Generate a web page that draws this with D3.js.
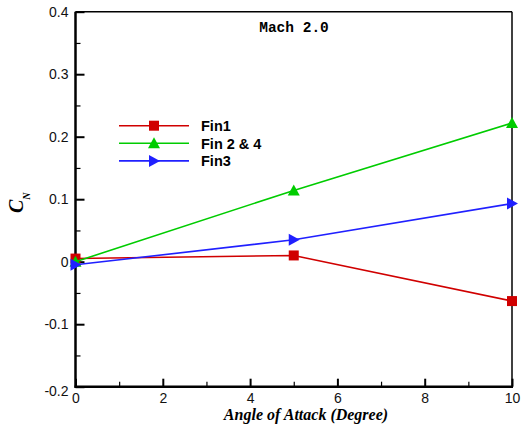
<!DOCTYPE html>
<html>
<head>
<meta charset="utf-8">
<script src="https://cdn.jsdelivr.net/npm/d3@7"></script>
<style>
  body { margin: 0; background: #fff; }
</style>
</head>
<body>
<div id="canvas"></div>
<script>
"use strict"

// data
let angles = [0, 5, 10];
let fin1 = [0.005, 0.01, -0.063];
let fin24 = [0, 0.114, 0.222];
let fin3 = [-0.005, 0.035, 0.093];
let seriesNames = ["Fin1", "Fin 2 & 4", "Fin3"];
let xTicks = [0, 2, 4, 6, 8, 10];
let yTicks = [-0.2, -0.1, 0, 0.1, 0.2, 0.3, 0.4];

let width = 521;
let height = 426;
let plotLeft = 75.5, plotRight = 512, plotTop = 11.7, plotBottom = 386.7;

let svg = d3.select("#canvas")
    .append("svg")
    .attr("width", width)
    .attr("height", height);

let x = d3.scaleLinear().domain([0, 10]).range([plotLeft, plotRight]);
let y = d3.scaleLinear().domain([-0.2, 0.4]).range([plotBottom, plotTop]);

/* frame top and right, thin */
svg.append("line")
    .attr("x1", plotLeft).attr("y1", plotTop)
    .attr("x2", plotRight).attr("y2", plotTop)
    .attr("stroke", "black").attr("stroke-width", 1.5);
svg.append("line")
    .attr("x1", plotRight).attr("y1", plotTop)
    .attr("x2", plotRight).attr("y2", plotBottom)
    .attr("stroke", "black").attr("stroke-width", 1.5);

/* bottom axis */
let xAxis = svg.append("g")
    .attr("transform", "translate(0," + plotBottom + ")")
    .call(d3.axisBottom(x).tickValues(xTicks).tickSize(-8).tickPadding(6)
        .tickFormat(d3.format("d")));
xAxis.select(".domain").remove();
xAxis.selectAll(".tick line").attr("stroke", "black").attr("stroke-width", 2);
xAxis.selectAll("text")
    .attr("font-family", "Liberation Sans, Arial, sans-serif")
    .attr("font-size", 14).attr("fill", "#111");

let xMinor = svg.append("g")
    .attr("transform", "translate(0," + plotBottom + ")")
    .call(d3.axisBottom(x).tickValues([1, 3, 5, 7, 9]).tickSize(-5).tickFormat(""));
xMinor.select(".domain").remove();
xMinor.selectAll(".tick line").attr("stroke", "black").attr("stroke-width", 1.2);

/* left axis */
let yAxis = svg.append("g")
    .attr("transform", "translate(" + plotLeft + ",0)")
    .call(d3.axisLeft(y).tickValues(yTicks).tickSize(-9).tickPadding(7)
        .tickFormat(d => d === 0 ? "0" : d3.format(".1f")(d).replace("\u2212", "-")));
yAxis.select(".domain").remove();
yAxis.selectAll(".tick line").attr("stroke", "black").attr("stroke-width", 2);
yAxis.selectAll("text")
    .attr("font-family", "Liberation Sans, Arial, sans-serif")
    .attr("font-size", 14).attr("fill", "#111");
yAxis.selectAll(".tick").filter(d => d === -0.2).select("text").attr("dy", "0.62em");

let yMinor = svg.append("g")
    .attr("transform", "translate(" + plotLeft + ",0)")
    .call(d3.axisLeft(y).tickValues([-0.15, -0.05, 0.05, 0.15, 0.25, 0.35]).tickSize(-5).tickFormat(""));
yMinor.select(".domain").remove();
yMinor.selectAll(".tick line").attr("stroke", "black").attr("stroke-width", 1.2);

svg.append("line")
    .attr("x1", plotLeft).attr("y1", plotTop)
    .attr("x2", plotLeft).attr("y2", plotBottom + 1)
    .attr("stroke", "black").attr("stroke-width", 2.5);
svg.append("line")
    .attr("x1", plotLeft - 1).attr("y1", plotBottom)
    .attr("x2", plotRight + 1).attr("y2", plotBottom)
    .attr("stroke", "black").attr("stroke-width", 2.5);

/* series */
let series = [
    { name: seriesNames[0], values: fin1, color: "#d00000", marker: "square" },
    { name: seriesNames[1], values: fin24, color: "#00cc00", marker: "up" },
    { name: seriesNames[2], values: fin3, color: "#2020ff", marker: "right" }
];

function marker(g, type, cx, cy, color) {
    if (type === "square") {
        g.append("rect")
            .attr("x", cx - 5).attr("y", cy - 5)
            .attr("width", 10).attr("height", 10)
            .attr("fill", color);
    } else if (type === "up") {
        g.append("polygon")
            .attr("points", [[cx, cy - 6], [cx + 6, cy + 5], [cx - 6, cy + 5]].join(" "))
            .attr("fill", color);
    } else {
        g.append("polygon")
            .attr("points", [[cx + 6, cy], [cx - 5, cy - 6], [cx - 5, cy + 6]].join(" "))
            .attr("fill", color);
    }
}

let line = d3.line()
    .x((d, i) => x(angles[i]))
    .y(d => y(d));

let plot = svg.append("g");
series.forEach(s => {
    plot.append("path")
        .attr("d", line(s.values))
        .attr("fill", "none")
        .attr("stroke", s.color)
        .attr("stroke-width", 1.6);
    s.values.forEach((v, i) => marker(plot, s.marker, x(angles[i]), y(v), s.color));
});

/* legend */
let legend = svg.append("g");
series.forEach((s, i) => {
    let ly = 125.7 + i * 17.6;
    legend.append("line")
        .attr("x1", 119).attr("y1", ly)
        .attr("x2", 189).attr("y2", ly)
        .attr("stroke", s.color).attr("stroke-width", 1.6);
    marker(legend, s.marker, 154, ly, s.color);
    legend.append("text")
        .attr("x", 201).attr("y", ly + 5.5)
        .attr("font-family", "Liberation Sans, Arial, sans-serif")
        .attr("font-weight", "bold")
        .attr("font-size", 14.5)
        .text(s.name);
});

/* Mach label */
svg.append("text")
    .attr("x", 294).attr("y", 32)
    .attr("text-anchor", "middle")
    .attr("font-family", "Liberation Mono, Courier New, monospace")
    .attr("font-weight", "bold")
    .attr("font-size", 14.5)
    .text("Mach 2.0");

/* axis titles */
svg.append("text")
    .attr("x", 306).attr("y", 420)
    .attr("text-anchor", "middle")
    .attr("font-family", "Liberation Serif, Times New Roman, serif")
    .attr("font-weight", "bold")
    .attr("font-style", "italic")
    .attr("font-size", 16)
    .text("Angle of Attack (Degree)");

let cn = svg.append("text")
    .attr("transform", "translate(23,213) rotate(-90)")
    .attr("font-family", "Liberation Serif, Times New Roman, serif")
    .attr("font-weight", "bold")
    .attr("font-style", "italic")
    .attr("font-size", 20);
cn.append("tspan").text("C");
cn.append("tspan").attr("font-size", 10).attr("dy", 7).text("N");
</script>
</body>
</html>
